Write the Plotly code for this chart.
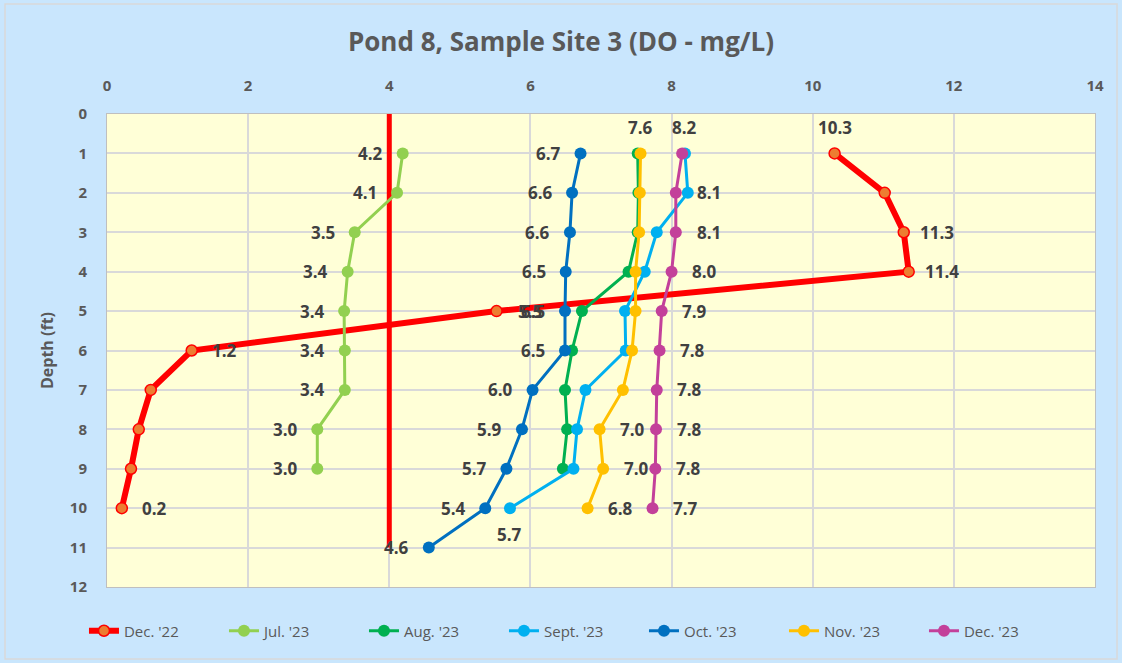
import plotly.graph_objects as go

# ---------------- data ----------------
depth_dec22 = [1, 2, 3, 4, 5, 6, 7, 8, 9, 10]
dec22 = [10.31, 11.02, 11.29, 11.36, 5.52, 1.20, 0.62, 0.45, 0.34, 0.21]

depth_jul23 = [1, 2, 3, 4, 5, 6, 7, 8, 9]
jul23 = [4.19, 4.11, 3.51, 3.41, 3.36, 3.37, 3.37, 2.98, 2.98]

depth_aug23 = [1, 2, 3, 4, 5, 6, 7, 8, 9]
aug23 = [7.52, 7.53, 7.52, 7.39, 6.73, 6.59, 6.49, 6.52, 6.46]

depth_sept23 = [1, 2, 3, 4, 5, 6, 7, 8, 9, 10]
sept23 = [8.19, 8.23, 7.79, 7.62, 7.34, 7.35, 6.78, 6.66, 6.61, 5.71]

depth_oct23 = [1, 2, 3, 4, 5, 6, 7, 8, 9, 10, 11]
oct23 = [6.71, 6.59, 6.56, 6.50, 6.49, 6.49, 6.03, 5.88, 5.66, 5.36, 4.56]

depth_nov23 = [1, 2, 3, 4, 5, 6, 7, 8, 9, 10]
nov23 = [7.56, 7.55, 7.54, 7.49, 7.49, 7.44, 7.31, 6.98, 7.03, 6.81]

depth_dec23 = [1, 2, 3, 4, 5, 6, 7, 8, 9, 10]
dec23 = [8.15, 8.06, 8.06, 8.00, 7.86, 7.83, 7.79, 7.78, 7.77, 7.73]

threshold_x = [4, 4]
threshold_depth = [0, 11]

x_ticks = [0, 2, 4, 6, 8, 10, 12, 14]
y_ticks = list(range(0, 13))

# label placement per point: 'l' left, 'r' right, 't' above, 'b' below, None = no label
labels_dec22 = ['t', None, 'r', 'r', 'r', 'r', None, None, None, 'r']
labels_jul23 = ['l'] * 9
labels_aug23 = [None] * 9
labels_sept23 = ['t'] + [None] * 8 + ['b']
labels_oct23 = ['l'] * 11
labels_nov23 = ['t'] + [None] * 6 + ['r', 'r', 'r']
labels_dec23 = [None] + ['r'] * 9

series = [
    ("Dec. '22", dec22, depth_dec22, "#FF0000", "#ED7D31", 6, 11, labels_dec22),
    ("Jul. '23", jul23, depth_jul23, "#92D050", "#92D050", 3, 12, labels_jul23),
    ("Aug. '23", aug23, depth_aug23, "#00B050", "#00B050", 3, 12, labels_aug23),
    ("Sept. '23", sept23, depth_sept23, "#00B0F0", "#00B0F0", 3, 12, labels_sept23),
    ("Oct. '23", oct23, depth_oct23, "#0070C0", "#0070C0", 3, 12, labels_oct23),
    ("Nov. '23", nov23, depth_nov23, "#FFC000", "#FFC000", 3, 12, labels_nov23),
    ("Dec. '23", dec23, depth_dec23, "#C3409A", "#C3409A", 3, 12, labels_dec23),
]

fig = go.Figure()

# threshold line
fig.add_trace(go.Scatter(x=threshold_x, y=threshold_depth, mode="lines",
                         line=dict(color="#FF0000", width=5),
                         showlegend=False, hoverinfo="skip"))

label_font = dict(family="Open Sans", size=17, color="#404040")
annotations = []
for name, xs, ys, lc, mc, lw, ms, lbl in series:
    fig.add_trace(go.Scatter(
        x=xs, y=ys, mode="lines+markers", name=name,
        line=dict(color=lc, width=lw),
        marker=dict(color=mc, size=ms,
                    line=dict(color=lc, width=1.5 if mc != lc else 0)),
    ))
    for x, y, p in zip(xs, ys, lbl):
        if p is None:
            continue
        xs_, ys_ = 0, 0
        if p == 'l':
            xs_ = -32
        elif p == 'r':
            xs_ = 33
        elif p == 't':
            ys_ = 26
        elif p == 'b':
            ys_ = -26
        annotations.append(dict(x=x, y=y, xref="x", yref="y", text=f"<b>{x:.1f}</b>",
                                showarrow=False, xshift=xs_, yshift=ys_,
                                font=label_font, xanchor="center", yanchor="middle"))

# outer border
border = [dict(type="rect", xref="paper", yref="paper",
               x0=-0.1032, x1=1.0223, y0=-0.1522, y1=1.2326,
               line=dict(color="#D9D9D9", width=1.5), fillcolor="rgba(0,0,0,0)",
               layer="below")]

fig.update_layout(
    width=1122, height=663,
    paper_bgcolor="#C9E6FD",
    plot_bgcolor="#FFFFD7",
    margin=dict(l=107, r=27, t=114, b=76, autoexpand=False),
    title=dict(text="<b>Pond 8, Sample Site 3 (DO - mg/L)</b>", x=0.5, xanchor="center",
               y=0.937, yanchor="middle",
               font=dict(family="Open Sans", size=26, color="#595959")),
    font=dict(family="Open Sans", color="#595959"),
    xaxis=dict(side="top", range=[0, 14], tickvals=x_ticks,
               ticktext=[f"<b>{v}</b>" for v in x_ticks],
               tickfont=dict(size=15, color="#595959"),
               showgrid=True, gridcolor="#D9D9D9", gridwidth=1.5,
               showline=True, linecolor="#BFBFBF", mirror=True,
               zeroline=False, ticks="", ticklabelstandoff=16),
    yaxis=dict(range=[12, 0], tickvals=y_ticks,
               ticktext=[f"<b>{v}</b>" for v in y_ticks],
               tickfont=dict(size=15, color="#595959"),
               showgrid=True, gridcolor="#D9D9D9", gridwidth=1.5,
               showline=True, linecolor="#BFBFBF", mirror=True,
               zeroline=False, ticks="", ticklabelstandoff=16,
               title=dict(text="<b>Depth (ft)</b>", font=dict(size=16, color="#595959"),
                          standoff=12)),
    legend=dict(orientation="h", x=-0.0233, xanchor="left", y=-0.093, yanchor="middle",
                font=dict(size=15, color="#595959"), bgcolor="rgba(0,0,0,0)",
                itemwidth=30, entrywidth=95),
    annotations=annotations,
    shapes=border,
)

fig.write_html("out.html", config={"displayModeBar": False},
               post_script="document.body.style.margin='0';")
